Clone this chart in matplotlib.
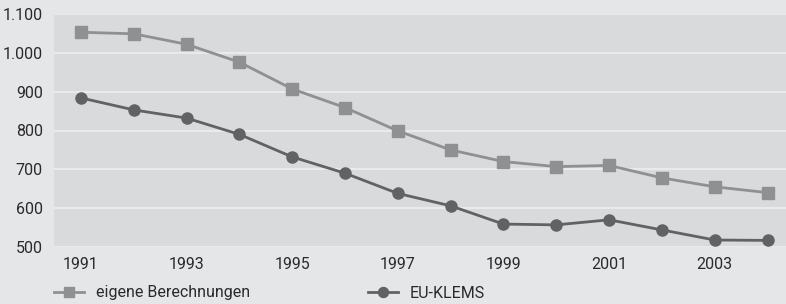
import matplotlib.pyplot as plt
from matplotlib.ticker import FuncFormatter

years = list(range(1991, 2005))
eigene = [1053, 1049, 1022, 976, 907, 859, 799, 750, 720, 707, 710, 678, 655, 640]
euklems = [884, 853, 832, 790, 732, 690, 638, 606, 559, 557, 570, 544, 518, 517]

plt.rcParams['font.family'] = ['Roboto', 'DejaVu Sans']

fig = plt.figure(figsize=(7.86, 3.04), dpi=100, facecolor='#e5e6e8')
ax = fig.add_axes([54 / 786, 57 / 304, 1 - 54 / 786, 233 / 304])
ax.set_facecolor('#d9dadc')

ax.plot(years, eigene, color='#8f9092', lw=2, marker='s', ms=8.5,
        label='eigene Berechnungen', zorder=3)
ax.plot(years, euklems, color='#616264', lw=2, marker='o', ms=8,
        label='EU-KLEMS', zorder=3)

ax.set_xlim(1990.49, 2004.35)
ax.set_ylim(500, 1100)
ax.set_xticks(years[::2])
ax.set_yticks(range(500, 1101, 100))
ax.yaxis.set_major_formatter(FuncFormatter(lambda v, p: f'{int(v):,}'.replace(',', '.')))
ax.grid(axis='y', color='#eeeeef', lw=1.2)
ax.set_axisbelow(True)
for s in ax.spines.values():
    s.set_visible(False)
ax.tick_params(length=0, labelsize=11.5, colors='#2a2a2a')
ax.tick_params(axis='y', pad=8)
ax.tick_params(axis='x', pad=7)

fig.legend(loc='center left', bbox_to_anchor=(54 / 786, 11 / 304), ncol=2, frameon=False,
           fontsize=11.5, handlelength=1.9, handletextpad=0.7, columnspacing=7.4,
           borderpad=0, borderaxespad=0, markerscale=0.9, labelcolor='#2a2a2a')

fig.savefig('out.png', dpi=100, facecolor=fig.get_facecolor())
